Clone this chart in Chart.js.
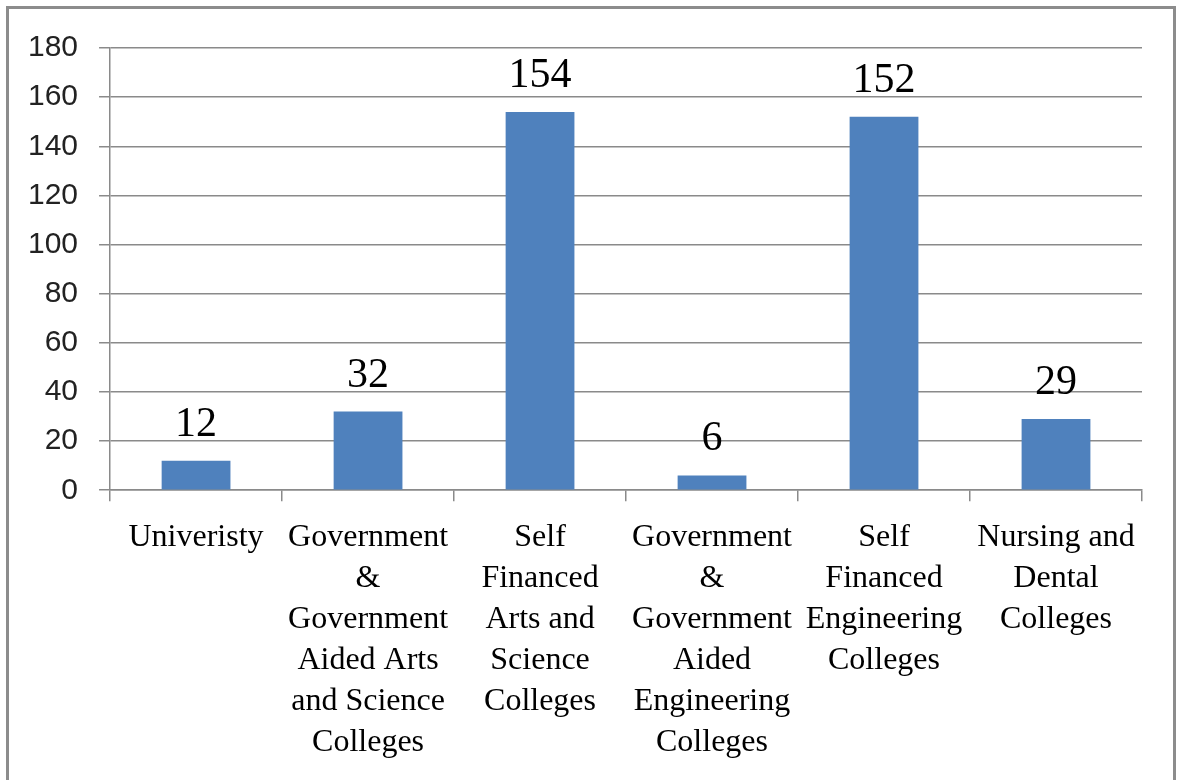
<!DOCTYPE html>
<html lang="en">
<head>
<meta charset="UTF-8">
<title>Colleges</title>
<script src="https://cdn.jsdelivr.net/npm/chart.js"></script>
<style>
    body {
        margin: 0;
        background: #fff;
        overflow: hidden;
    }
    .frame {
        position: absolute;
        left: 6px;
        top: 6px;
        width: 1164px;
        height: 800px;
        border: 3px solid #8c8c8c;
    }
    .chart-box {
        position: absolute;
        left: 0;
        top: 0;
        width: 1178px;
        height: 780px;
    }
</style>
</head>
<body>
<div class="frame"></div>
<div class="chart-box">
    <canvas id="collegeChart" width="1178" height="780"></canvas>
</div>
<script>
    // categories, one array of lines per label
    const categories = [
        ['Univeristy'],
        ['Government', '&', 'Government', 'Aided Arts', 'and Science', 'Colleges'],
        ['Self', 'Financed', 'Arts and', 'Science', 'Colleges'],
        ['Government', '&', 'Government', 'Aided', 'Engineering', 'Colleges'],
        ['Self', 'Financed', 'Engineering', 'Colleges'],
        ['Nursing and', 'Dental', 'Colleges']
    ];
    const counts = [12, 32, 154, 6, 152, 29];
    const yMin = 0;
    const yMax = 180;
    const yStep = 20;

    const gridColor = '#8a8a8a';

    // writes the value above each bar
    const valueLabels = {
        id: 'valueLabels',
        afterDatasetsDraw(chart) {
            const ctx = chart.ctx;
            const meta = chart.getDatasetMeta(0);
            ctx.save();
            ctx.font = '42px "Liberation Serif", "Times New Roman", serif';
            ctx.fillStyle = '#000';
            ctx.textAlign = 'center';
            ctx.textBaseline = 'alphabetic';
            meta.data.forEach((bar, i) => {
                ctx.fillText(String(counts[i]), bar.x, bar.y - 25);
            });
            ctx.restore();
        }
    };

    const ctx = document.getElementById('collegeChart').getContext('2d');
    new Chart(ctx, {
        type: 'bar',
        data: {
            labels: categories,
            datasets: [{
                data: counts,
                backgroundColor: '#4f81bd',
                borderWidth: 0,
                categoryPercentage: 1,
                barPercentage: 0.4
            }]
        },
        options: {
            responsive: false,
            animation: false,
            devicePixelRatio: 1,
            layout: {
                padding: { left: 7, top: 48, right: 36, bottom: 1 }
            },
            plugins: {
                legend: { display: false },
                tooltip: { enabled: false }
            },
            scales: {
                x: {
                    offset: true,
                    grid: {
                        offset: true,
                        drawOnChartArea: false,
                        drawTicks: true,
                        tickLength: 11,
                        color: gridColor,
                        lineWidth: 1.5
                    },
                    border: { display: true, color: gridColor, width: 1.5 },
                    ticks: {
                        autoSkip: false,
                        maxRotation: 0,
                        minRotation: 0,
                        padding: 16,
                        color: '#000',
                        font: { family: '"Liberation Serif", "Times New Roman", serif', size: 32, lineHeight: 1.28 }
                    }
                },
                y: {
                    min: yMin,
                    max: yMax,
                    grid: {
                        color: gridColor,
                        lineWidth: 1.5,
                        tickLength: 11
                    },
                    border: { display: true, color: gridColor, width: 1.5 },
                    ticks: {
                        stepSize: yStep,
                        padding: 21,
                        color: '#222',
                        font: { family: '"Liberation Sans", Arial, sans-serif', size: 30 }
                    }
                }
            }
        },
        plugins: [valueLabels]
    });
</script>
</body>
</html>
